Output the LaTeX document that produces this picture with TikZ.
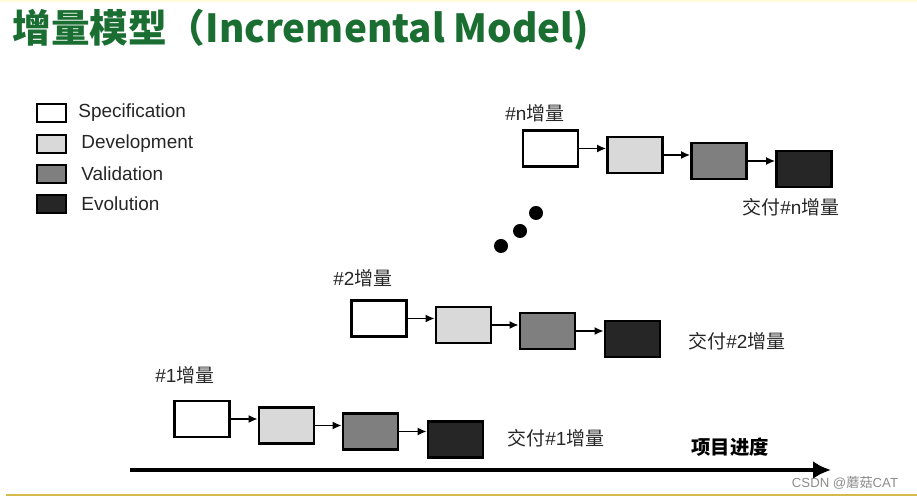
\documentclass[tikz,border=0pt]{standalone}
\usepackage{fontspec}
\setmainfont{Liberation Sans}
\newfontfamily\cjk{Noto Sans CJK SC}
\usetikzlibrary{arrows.meta,shadows}
\definecolor{titlegreen}{HTML}{1A6E32}
\definecolor{specfill}{HTML}{FFFFFF}
\definecolor{devfill}{HTML}{D9D9D9}
\definecolor{valfill}{HTML}{7F7F7F}
\definecolor{evofill}{HTML}{262626}
\definecolor{goldline}{HTML}{D6BA4C}
\newcommand{\inc}[1]{\##1{\cjk 增量}}

\begin{document}
\begin{tikzpicture}[
  font=\fontsize{10.8}{12.5}\selectfont,
  stage/.style={draw,line width=1.5pt,minimum width=1.1cm,minimum height=0.72cm,inner sep=0pt,
    drop shadow={opacity=0.35,shadow xshift=0.6pt,shadow yshift=-0.6pt}},
  key/.style={stage,minimum width=0.58cm,minimum height=0.36cm},
  flow/.style={-{Latex[length=1.8mm,width=1.6mm]},line width=1pt},
  lbl/.style={anchor=west,inner sep=0pt,text=black!85},
  dot/.style={circle,fill=black,minimum size=0.28cm,inner sep=0pt},
]
\useasboundingbox (0,0) rectangle (18.34,10);
% frame lines
\draw[yellow!15,line width=1pt] (0,9.98) -- (18.34,9.98);
\draw[goldline,line width=1.1pt] (0.12,0.10) -- (18.34,0.10);
% title
\node[anchor=base west,inner sep=0pt,text=titlegreen,font=\cjk\bfseries\fontsize{22}{26}\selectfont] (title) at (0.24,9.14) {增量模型（Incremental Model)};
% legend
\node[key,fill=specfill] (kspec) at (1.03,7.74) {};
\node[key,fill=devfill] (kdev) at (1.03,7.12) {};
\node[key,fill=valfill] (kval) at (1.03,6.52) {};
\node[key,fill=evofill] (kevo) at (1.03,5.92) {};
\node[lbl] (tspec) at (1.56,7.74) {Specification};
\node[lbl] (tdev) at (1.62,7.12) {Development};
\node[lbl] (tval) at (1.62,6.52) {Validation};
\node[lbl] (tevo) at (1.62,5.92) {Evolution};
% increment n
\node[lbl] (hn) at (10.10,7.74) {\inc{n}};
\node[stage,fill=specfill] (sn) at (11.01,7.03) {};
\node[stage,fill=devfill] (dn) at (12.70,6.90) {};
\node[stage,fill=valfill] (vn) at (14.38,6.78) {};
\node[stage,fill=evofill] (en) at (16.08,6.62) {};
\node[lbl] (on) at (14.84,5.86) {{\cjk 交付}\inc{n}};
% increment 2
\node[lbl] (h2) at (6.66,4.44) {\inc{2}};
\node[stage,fill=specfill] (s2) at (7.58,3.63) {};
\node[stage,fill=devfill] (d2) at (9.27,3.50) {};
\node[stage,fill=valfill] (v2) at (10.95,3.38) {};
\node[stage,fill=evofill] (e2) at (12.65,3.22) {};
\node[lbl] (o2) at (13.76,3.18) {{\cjk 交付}\inc{2}};
% increment 1
\node[lbl] (h1) at (3.10,2.50) {\inc{1}};
\node[stage,fill=specfill] (s1) at (4.04,1.62) {};
\node[stage,fill=devfill] (d1) at (5.73,1.49) {};
\node[stage,fill=valfill] (v1) at (7.41,1.37) {};
\node[stage,fill=evofill] (e1) at (9.11,1.21) {};
\node[lbl] (o1) at (10.14,1.24) {{\cjk 交付}\inc{1}};
% dots
\node[dot] (p1) at (10.02,5.08) {};
\node[dot] (p2) at (10.40,5.38) {};
\node[dot] (p3) at (10.72,5.74) {};
% arrows
\draw[flow] (sn.east) -- (sn.east -| dn.west); \draw[flow] (dn.east) -- (dn.east -| vn.west); \draw[flow] (vn.east) -- (vn.east -| en.west);
\draw[flow] (s2.east) -- (s2.east -| d2.west); \draw[flow] (d2.east) -- (d2.east -| v2.west); \draw[flow] (v2.east) -- (v2.east -| e2.west);
\draw[flow] (s1.east) -- (s1.east -| d1.west); \draw[flow] (d1.east) -- (d1.east -| v1.west); \draw[flow] (v1.east) -- (v1.east -| e1.west);
% time axis
\coordinate (t0) at (2.60,0.60);
\coordinate (t1) at (16.62,0.60);
\draw[-{Latex[length=3.6mm,width=3.6mm]},line width=2.3pt] (t0) -- (t1);
\node[font=\cjk\bfseries\fontsize{11}{13}\selectfont] (tl) at (14.60,1.06) {项目进度};
\node[text=black!45,font=\fontsize{7.5}{9}\selectfont] (wm) at (16.90,0.34) {CSDN @{\cjk 蘑菇}CAT};
\end{tikzpicture}
\end{document}
